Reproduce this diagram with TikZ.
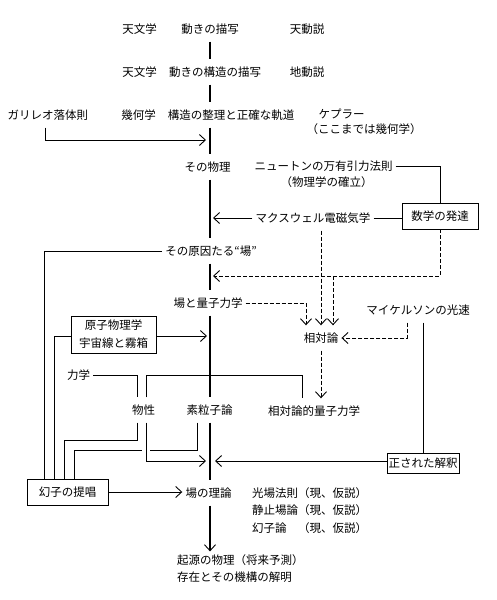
\documentclass[tikz,border=0pt]{standalone}
\usepackage{fontspec}
\setmainfont{Noto Sans CJK JP}
\usetikzlibrary{arrows.meta}

\begin{document}
\begin{tikzpicture}[
x=1pt, y=-1pt,
 >={Straight Barb[length=6pt,width=11pt]},
   lbl/.style = {font=\fontsize{11.5}{15}\selectfont,% plain text labels
                 inner sep=3pt, minimum height=25pt},
   box/.style = {draw, line width=0.9pt, align=center,% framed labels
                 font=\fontsize{11.5}{18}\selectfont, inner sep=2pt},
  link/.style = {line width=0.9pt},
 dlink/.style = {line width=0.9pt, dash pattern=on 4pt off 2pt},
 mainline/.style = {line width=1.8pt},
                    ]
\useasboundingbox (0,0) rectangle (497,600);
\coordinate (sp) at (210,0);
% rows along the main line
\node[lbl] (t1a) at (139.5,29) {天文学};
\node[lbl] (t1b) at (210,29) {動きの描写};
\node[lbl] (t1c) at (307,29) {天動説};
\node[lbl] (t2a) at (139.5,72) {天文学};
\node[lbl] (t2b) at (215,72) {動きの構造の描写};
\node[lbl] (t2c) at (307,72) {地動説};
\node[lbl] (gal) at (48,115) {ガリレオ落体則};
\node[lbl] (t3a) at (138.5,115) {幾何学};
\node[lbl] (t3b) at (231,115) {構造の整理と正確な軌道};
\node[lbl] (kep) at (341.5,114) {ケプラー};
\node[lbl] (kep2) at (364,129) {（ここまでは幾何学）};
\node[lbl] (phys) at (207.5,167) {その物理};
\node[lbl] (newton) at (323.5,166) {ニュートンの万有引力法則};
\node[lbl] (newton2) at (326.5,182) {（物理学の確立）};
\node[box, minimum width=76pt, minimum height=26pt] (math) at (440,216) {数学の発達};
\node[lbl] (maxw) at (313,218) {マクスウェル電磁気学};
\node[lbl] (field) at (211,251) {その原因たる“場”};
\node[lbl] (fq) at (208,303) {場と量子力学};
\node[lbl] (mich) at (418,310) {マイケルソンの光速};
\node[lbl] (rel) at (321,338) {相対論};
\node[box, minimum width=85pt, minimum height=37pt] (atom) at (113.5,334.5) {原子物理学\\宇宙線と霧箱};
\node[lbl] (mech) at (78.5,375) {力学};
\node[lbl] (bus) at (143.5,410) {物性};
\node[lbl] (elem) at (209.5,410) {素粒子論};
\node[lbl] (rqm) at (314,411) {相対論的量子力学};
\node[box, minimum width=72pt, minimum height=20pt, inner sep=1pt] (corr) at (423,463) {正された解釈};
\node[box, minimum width=81pt, minimum height=26pt] (gen) at (67.5,492) {幻子の提唱};
\node[lbl] (fth) at (208.5,493) {場の理論};
\node[lbl, font=\fontsize{11.5}{17.5}\selectfont, align=left, anchor=west, minimum height=0pt] (laws) at (249,510.5)
     {光場法則（現、仮説）\\静止場論（現、仮説）\\幻子論　（現、仮説）};
\node[lbl, font=\fontsize{11.5}{17}\selectfont, align=left, anchor=west, minimum height=0pt] (orig) at (174,568.5)
     {起源の物理（将来予測）\\存在とその機構の解明};
% main line
\draw[mainline] (t1b.south -| sp) -- (t2b.north -| sp);
\draw[mainline] (t2b.south -| sp) -- (t3b.north -| sp);
\draw[mainline] (t3b.south -| sp) -- (phys.north -| sp);
\draw[mainline] (phys.south -| sp) -- (field.north -| sp);
\draw[mainline] (field.south -| sp) -- (fq.north -| sp);
\draw[mainline] (fq.south -| sp) -- (elem.north -| sp);
\draw[mainline] (elem.south -| sp) -- (fth.north -| sp);
\draw[mainline, -{Straight Barb[length=6pt,width=11pt,line width=0.9pt]}] (fth.south -| sp) -- (orig.north -| sp);
% side connectors
\coordinate (jgal) at (206,140);
\draw[link,->] ([xshift=-2.5]gal.south) |- (jgal);
\draw[link] (newton.east) -| (math.north);
\coordinate (jmax) at (213,218);
\draw[link,->] (maxw.west) -- (jmax);
\draw[link] (maxw.east) -- (maxw.east -| math.west);
\draw[dlink,->] (maxw.south -| rel) -- (rel.north);
\coordinate (jdash) at (213,276);
\draw[dlink,->] (math.south) |- (jdash);
\coordinate (jbr) at (333,276);
\draw[dlink,->] (jbr) -- (jbr |- rel.north);
\draw[dlink,->] (fq.east) -| ([xshift=-15]rel.north);
\draw[dlink,->] ([xshift=-11]mich.south) |- (rel.east);
\draw[link] (mich.south -| corr.north) -- (corr.north);
\draw[dlink,->] (rel.south) -- (rel.south |- rqm.north);
\coordinate (jatom) at (207,336);
\draw[link,->] (atom.east |- jatom) -- (jatom);
\draw[link] (atom.west |- jatom) -| ([xshift=-13.5]gen.north);
\draw[link] (field.west) -| ([xshift=-23.5]gen.north);
\draw[link] (mech.east) -| ([xshift=-6.5]bus.north);
\draw[link] ([xshift=2.5]bus.north) -- ++(0,-22) -| ([xshift=-12]rqm.north);
\draw[link] ([xshift=-6.5]bus.south) -- ++(0,17.5) -| ([xshift=-3.5]gen.north);
\draw[link] ([xshift=-12.5]elem.south) -- ++(0,27.5) -| ([xshift=6.5]gen.north);
\coordinate (jleft) at (206,461);
\draw[link,->,preaction={draw=white,line width=8pt,-}] ([xshift=2.5]bus.south) |- (jleft);
\coordinate (jright) at (215,461);
\draw[link,->] (corr.west |- jright) -- (jright);
\draw[link,->] (gen.east) -- (gen.east -| fth.west);
\end{tikzpicture}
\end{document}
